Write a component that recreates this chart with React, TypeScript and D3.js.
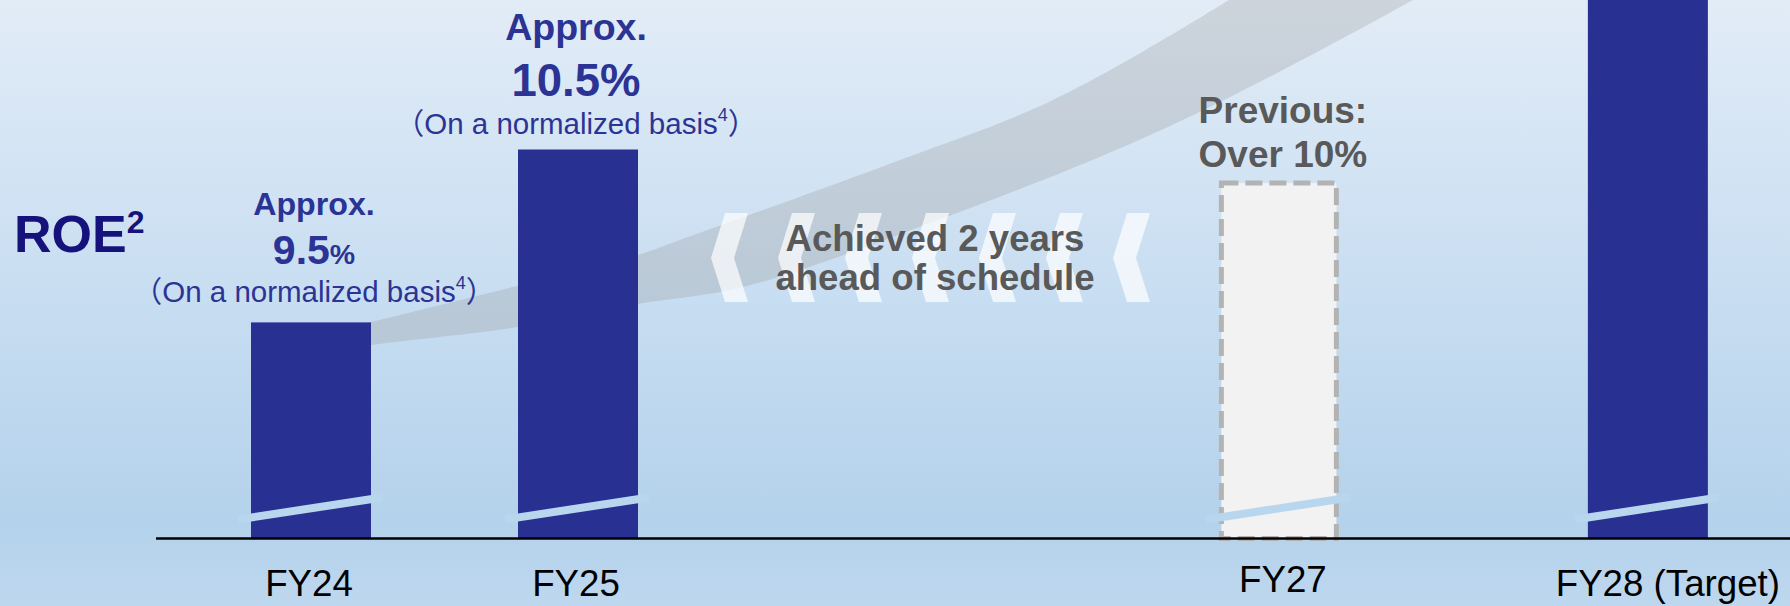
import React from "react";
import * as d3 from "d3";

// ---------- data ----------
const categories = ["FY24", "FY25", "FY27", "FY28 (Target)"];
const roeValues = [9.5, 10.5, 10.32, 12.0];
const barTypes = ["actual", "actual", "previous", "target"];
const prefixLabels = ["Approx.", "Approx.", "", ""];
const valueLabels = ["9.5", "10.5", "", ""];
const noteLabels = ["On a normalized basis", "On a normalized basis", "", ""];
const previousLabels = ["Previous:", "Over 10%"];
const arrowText = ["Achieved 2 years", "ahead of schedule"];
const yTitle = "ROE";
const yTitleNote = "2";
const noteMark = "4";

// ---------- layout ----------
const W = 1790;
const H = 606;
const AXIS_Y = 538.5;
const BAR_W = 120;
const SLOT = [0, 1, 3.625, 5.007];
const FF = "'Liberation Sans', Arial, 'Noto Sans CJK JP', sans-serif";
const BLUE = "#283092";
const LABEL_BLUE = "#2b3494";
const GRAY_TXT = "#595959";

const x = d3.scaleLinear().domain([0, 1]).range([311, 578]);
const y = d3.scaleLinear().domain([8.25, 10.5]).range([AXIS_Y, 149.5]);

// decorative swoosh edges
const upperEdge: [number, number][] = [
  [330, 332], [371, 322], [517, 286], [638, 255], [680, 240], [900, 160], [1053, 100], [1229, 0], [1262, -22],
];
const lowerEdge: [number, number][] = [
  [1450, -22], [1413, 0], [1168, 127], [938, 220], [743, 287], [638, 304], [518, 327], [371, 345], [330, 352],
];
const chevronCount = 7;

export default function App() {
  const edge = d3.line<[number, number]>().curve(d3.curveCatmullRom.alpha(0.5));
  const up = edge(upperEdge) || "";
  const lo = (edge(lowerEdge) || "").replace(/^M/, "L");
  const swoosh = up + lo + "Z";

  const chevX = d3.range(chevronCount).map((i) => 711 + i * 67);

  return (
    <svg
      width={W}
      height={H}
      style={{ position: "absolute", left: 0, top: 0, display: "block" }}
      fontFamily={FF}
    >
      <defs>
        <linearGradient id="bg" x1="0" y1="0" x2="0" y2="1">
          <stop offset="0" stopColor="#e2ecf7" />
          <stop offset="0.5" stopColor="#c7ddf1" />
          <stop offset="0.86" stopColor="#b4d2eb" />
          <stop offset="1" stopColor="#bdd7ee" />
        </linearGradient>
      </defs>
      <rect x={0} y={0} width={W} height={H} fill="url(#bg)" />

      {/* swoosh */}
      <path d={swoosh} fill="#9a9a9a" fillOpacity={0.3} />

      {/* chevrons */}
      {chevX.map((cx, i) => (
        <polygon
          key={i}
          points={[
            [cx, 258],
            [cx + 14, 213],
            [cx + 37, 213],
            [cx + 23, 258],
            [cx + 37, 302],
            [cx + 14, 302],
          ]
            .map((p) => p.join(","))
            .join(" ")}
          fill="#ffffff"
          fillOpacity={0.7}
        />
      ))}

      {/* arrow text */}
      <text textAnchor="middle" fontWeight="bold" fontSize={36.6} fill={GRAY_TXT}>
        <tspan x={935} y={250.5}>{arrowText[0]}</tspan>
        <tspan x={935} y={290}>{arrowText[1]}</tspan>
      </text>

      {/* bars */}
      {categories.map((c, i) => {
        const cx = x(SLOT[i]);
        const top = y(roeValues[i]);
        const x0 = cx - BAR_W / 2;
        if (barTypes[i] === "previous") {
          return (
            <g key={c}>
              <rect
                x={x0 + 2.5}
                y={top + 2.5}
                width={BAR_W - 5}
                height={AXIS_Y - top - 2.5}
                fill="#f2f2f2"
                stroke="#b3b3b3"
                strokeWidth={5}
                strokeDasharray="17 7"
              />
            </g>
          );
        }
        return <rect key={c} x={x0} y={top} width={BAR_W} height={AXIS_Y - top} fill={BLUE} />;
      })}

      {/* break marks */}
      {categories.map((c, i) => {
        const cx = x(SLOT[i]);
        const x0 = cx - BAR_W / 2;
        const x1 = cx + BAR_W / 2;
        return (
          <line
            key={"b" + c}
            x1={x0 - 13}
            y1={AXIS_Y - 19}
            x2={x1 + 11}
            y2={AXIS_Y - 41}
            stroke="#b9d6ef"
            strokeWidth={8}
          />
        );
      })}

      {/* axis */}
      <line x1={156} x2={W} y1={AXIS_Y} y2={AXIS_Y} stroke="#000" strokeWidth={2.6} />

      {/* category labels */}
      {categories.map((c, i) => (
        <text
          key={"l" + c}
          x={x(SLOT[i]) + (i === 3 ? 20 : i === 2 ? 4 : -2)}
          y={i === 2 ? 592 : 596}
          textAnchor="middle"
          fontSize={36.7}
          fill="#000"
        >
          {c}
        </text>
      ))}

      {/* FY24 labels */}
      {[0].map((i) => {
        const cx = x(SLOT[i]) + 3;
        const top = y(roeValues[i]);
        return (
          <g key={"v" + i} fill={LABEL_BLUE} textAnchor="middle">
            <text x={cx} y={top - 107.5} fontSize={32.2} fontWeight="bold">
              {prefixLabels[i]}
            </text>
            <text x={cx} y={top - 58.5} fontWeight="bold">
              <tspan fontSize={41}>{valueLabels[i]}</tspan>
              <tspan fontSize={28.5}>%</tspan>
            </text>
            <text x={cx} y={top - 20.5} fontSize={29.5}>
              {"（"}
              {noteLabels[i]}
              <tspan fontSize={18} dy={-13}>
                {noteMark}
              </tspan>
              <tspan dy={13}>{"）"}</tspan>
            </text>
          </g>
        );
      })}

      {/* FY25 labels */}
      {[1].map((i) => {
        const cx = x(SLOT[i]) - 2;
        const top = y(roeValues[i]);
        return (
          <g key={"v" + i} fill={LABEL_BLUE} textAnchor="middle">
            <text x={cx} y={top - 110} fontSize={37.5} fontWeight="bold">
              {prefixLabels[i]}
            </text>
            <text x={cx} y={top - 54} fontWeight="bold" fontSize={45.5}>
              {valueLabels[i]}%
            </text>
            <text x={cx} y={top - 16} fontSize={29.5}>
              {"（"}
              {noteLabels[i]}
              <tspan fontSize={18} dy={-13}>
                {noteMark}
              </tspan>
              <tspan dy={13}>{"）"}</tspan>
            </text>
          </g>
        );
      })}

      {/* previous target labels */}
      <g fill={GRAY_TXT} textAnchor="middle" fontWeight="bold" fontSize={37}>
        <text x={x(SLOT[2]) + 4} y={y(roeValues[2]) - 58}>
          {previousLabels[0]}
        </text>
        <text x={x(SLOT[2]) + 4} y={y(roeValues[2]) - 13.5}>
          {previousLabels[1]}
        </text>
      </g>

      {/* y title */}
      <text x={14} y={252} fontSize={52} fontWeight="bold" fill="#16127c">
        {yTitle}
        <tspan fontSize={32} dy={-19}>
          {yTitleNote}
        </tspan>
      </text>
    </svg>
  );
}
